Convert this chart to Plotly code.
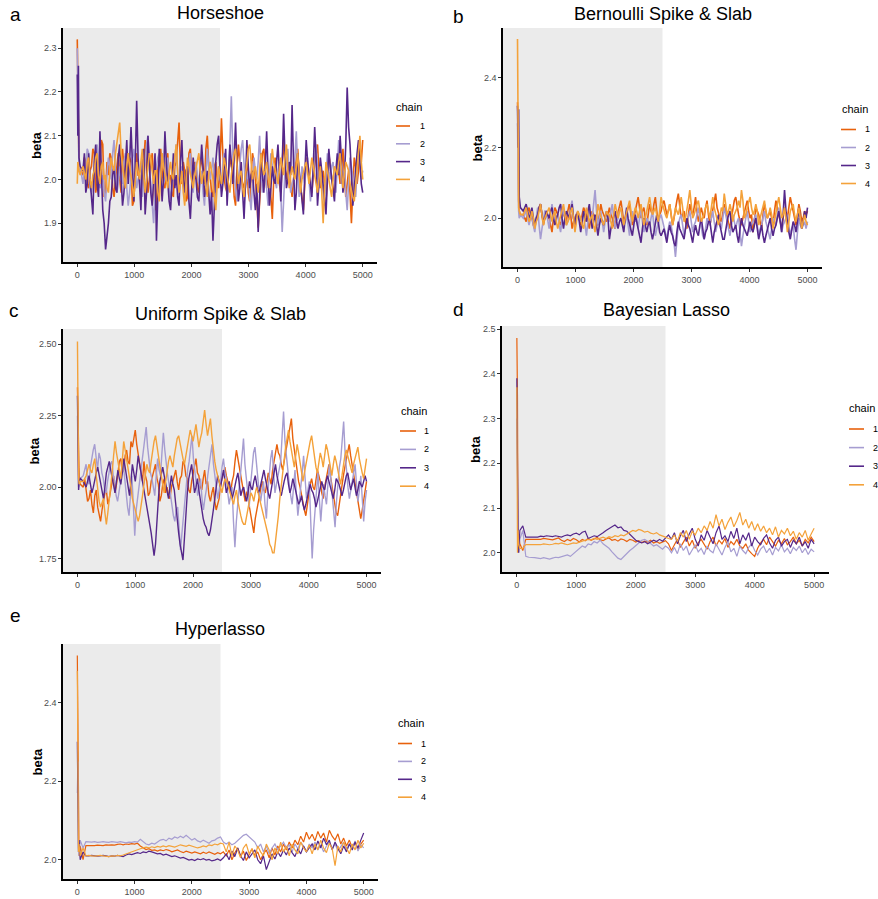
import numpy as np
import plotly.graph_objects as go

# ---------------- data ----------------
head_iterations = [0, 10, 20, 30, 50]
last_iteration = 5000
burnin = 2500
x_ticks = [0, 1000, 2000, 3000, 4000, 5000]
chain_names = ["1", "2", "3", "4"]
chain_colors = ["#e8610c", "#a69dd1", "#55278a", "#f4a23a"]

# Panel a: Horseshoe
horseshoe_1 = [2.32, 2.20, 2.05, 2.03, 2.02,
    2.01, 2.05, 2.04, 1.99, 1.98, 2.02, 2.03, 2.07, 2.06, 1.97, 1.99, 2.03, 2.02, 2.09, 2.08, 1.96, 1.97, 2.04, 2.01, 2.06,
    2.05, 1.98, 1.96, 2.00, 2.03, 2.06, 2.00, 1.97, 2.07, 2.03, 1.98, 2.01, 2.02, 2.05, 2.04, 1.94, 1.95, 2.03, 2.06, 2.01,
    2.01, 1.97, 1.99, 2.04, 2.09, 2.02, 1.97, 2.00, 2.03, 2.06, 2.00, 1.93, 1.94, 2.02, 2.05, 2.07, 2.02, 1.99, 1.98, 2.04,
    2.06, 2.00, 2.01, 1.97, 1.96, 2.03, 2.04, 2.08, 2.13, 2.02, 1.99, 2.04, 2.02, 1.95, 1.96, 2.06, 2.07, 2.01, 2.00, 2.04,
    2.03, 1.98, 1.97, 2.03, 2.05, 2.02, 1.99, 2.07, 2.10, 2.03, 2.01, 1.97, 1.96, 2.03, 2.04, 2.00, 1.98, 2.03, 2.14, 2.06,
    2.00, 1.98, 1.97, 2.02, 2.05, 2.03, 2.02, 1.96, 1.94, 2.03, 2.08, 2.04, 2.01, 1.99, 1.98, 2.02, 2.04, 1.97, 1.95, 2.01,
    2.06, 2.04, 2.00, 1.96, 1.89, 1.95, 2.03, 2.06, 2.07, 2.01, 1.98, 2.00, 2.02, 1.96, 1.91, 2.00, 2.05, 2.02, 2.01, 1.99,
    1.97, 2.04, 2.09, 2.03, 2.00, 2.02, 2.04, 1.99, 1.96, 2.00, 2.02, 2.05, 2.07, 2.01, 1.99, 1.96, 1.93, 2.00, 2.05, 2.03,
    2.01, 1.99, 1.97, 2.01, 2.03, 2.05, 2.08, 2.02, 1.98, 2.00, 2.02, 1.99, 1.95, 2.01, 2.06, 2.03, 2.00, 1.98, 1.97, 2.01,
    2.04, 2.02, 1.99, 2.03, 2.07, 2.01, 1.96, 1.99, 2.02, 1.97, 1.90, 1.98, 2.05, 2.03, 1.99, 2.02, 2.08, 2.04, 2.09]
horseshoe_2 = [2.30, 2.15, 2.04, 2.02, 2.03,
    1.99, 2.02, 2.03, 2.07, 2.06, 1.98, 1.97, 2.00, 2.02, 2.05, 2.08, 2.02, 1.98, 1.99, 2.01, 1.97, 1.95, 2.01, 2.05, 2.03,
    2.00, 2.06, 2.09, 2.01, 1.97, 1.99, 2.03, 2.00, 1.99, 2.04, 2.06, 1.98, 1.94, 1.97, 2.02, 2.05, 2.07, 2.01, 1.98, 2.00,
    2.01, 1.98, 1.96, 2.02, 2.04, 2.08, 2.10, 2.03, 1.99, 1.94, 1.90, 1.97, 2.03, 2.05, 2.06, 2.00, 1.97, 1.99, 2.00, 2.03,
    2.05, 1.99, 1.95, 1.98, 2.02, 2.05, 2.08, 2.01, 1.98, 2.00, 2.03, 1.99, 1.96, 2.00, 2.01, 2.04, 2.06, 2.00, 1.97, 2.02,
    2.04, 2.01, 1.99, 2.00, 2.02, 1.97, 1.94, 2.01, 2.07, 2.03, 2.00, 2.02, 2.05, 2.01, 1.97, 1.99, 2.03, 2.00, 1.99, 2.04,
    2.06, 2.01, 1.96, 2.02, 2.08, 2.19, 2.06, 2.01, 1.98, 1.95, 2.00, 2.04, 2.07, 2.09, 2.02, 1.98, 2.00, 2.02, 1.96, 1.93,
    1.99, 2.05, 2.02, 2.00, 2.04, 2.10, 2.03, 1.97, 1.99, 2.03, 1.98, 1.94, 2.01, 2.06, 2.03, 2.01, 1.99, 1.98, 2.02, 2.04,
    1.97, 1.88, 1.95, 2.02, 2.04, 2.07, 2.01, 1.97, 1.99, 2.00, 2.05, 2.11, 2.02, 1.96, 1.99, 2.03, 2.01, 1.99, 2.03, 2.05,
    2.00, 1.95, 1.99, 2.02, 2.05, 2.08, 2.02, 1.98, 2.00, 2.01, 1.97, 1.94, 2.00, 2.06, 2.02, 2.00, 2.03, 2.04, 2.00, 1.97,
    2.03, 2.09, 2.04, 1.99, 2.01, 2.02, 1.97, 1.93, 1.99, 2.05, 2.03, 2.01, 1.98, 1.96, 2.02, 2.07, 2.04, 2.00, 2.02]
horseshoe_3 = [2.24, 2.10, 2.26, 2.05, 2.03,
    2.02, 2.06, 1.97, 1.99, 2.06, 2.00, 1.95, 1.92, 2.04, 2.08, 1.99, 1.96, 2.11, 2.02, 1.93, 1.90, 1.84, 1.87, 1.90, 1.95,
    1.96, 2.01, 2.03, 1.98, 1.97, 2.05, 2.08, 2.00, 1.94, 1.97, 2.05, 2.09, 1.99, 2.04, 2.12, 2.01, 1.95, 2.03, 2.18, 2.05,
    1.98, 1.93, 2.04, 2.07, 1.92, 1.97, 2.10, 2.03, 1.97, 1.94, 2.02, 2.06, 1.86, 1.95, 2.07, 2.02, 1.95, 2.00, 2.11, 2.04,
    1.99, 1.95, 1.93, 2.01, 2.06, 1.98, 2.01, 1.96, 1.94, 2.04, 2.09, 2.00, 1.97, 2.02, 2.03, 1.95, 1.91, 1.98, 2.05, 2.01,
    2.00, 1.96, 1.95, 2.02, 2.08, 2.03, 1.96, 1.99, 2.02, 1.97, 1.92, 1.97, 1.86, 1.94, 2.04, 2.08, 2.10, 2.02, 1.96, 1.99,
    2.03, 2.07, 1.94, 2.00, 2.08, 2.04, 1.99, 2.05, 2.13, 2.03, 1.95, 1.98, 2.04, 1.97, 1.91, 1.99, 2.09, 2.03, 1.98, 2.01,
    2.02, 1.97, 1.93, 1.99, 1.88, 1.96, 2.06, 2.01, 1.97, 2.03, 2.11, 2.02, 1.94, 1.98, 2.03, 2.00, 1.99, 2.04, 2.08, 2.02,
    1.95, 2.03, 2.15, 2.05, 1.98, 2.00, 2.04, 2.01, 2.17, 2.04, 1.93, 1.97, 2.06, 2.02, 1.99, 1.95, 1.92, 2.01, 2.09, 2.04,
    2.01, 1.98, 1.96, 2.03, 2.12, 2.05, 1.94, 1.99, 2.05, 2.02, 1.98, 1.95, 1.92, 2.00, 2.07, 2.03, 2.00, 1.97, 1.95, 2.02,
    2.06, 2.01, 2.10, 2.04, 1.97, 2.00, 2.08, 2.21, 2.12, 2.08, 2.01, 1.94, 1.98, 2.03, 2.06, 2.09, 2.03, 1.99, 1.97]
horseshoe_4 = [1.99, 2.04, 2.03, 2.02, 2.01,
    2.03, 2.01, 2.00, 2.04, 2.05, 2.00, 1.98, 2.01, 2.02, 2.05, 2.06, 2.01, 1.99, 2.03, 2.04, 2.00, 2.01, 1.98, 1.97, 2.02,
    2.05, 2.03, 2.02, 2.06, 2.08, 2.11, 2.13, 2.06, 2.03, 2.00, 1.98, 2.03, 2.06, 2.03, 2.01, 1.98, 1.96, 2.00, 2.04, 2.02,
    2.00, 2.04, 2.07, 2.01, 1.97, 2.00, 2.03, 2.06, 2.05, 2.01, 1.99, 2.02, 2.02, 1.97, 1.95, 2.01, 2.06, 2.03, 2.01, 1.99,
    1.98, 2.02, 2.04, 2.01, 2.00, 2.05, 2.08, 2.02, 1.97, 1.99, 2.02, 1.97, 1.94, 2.00, 2.05, 2.03, 2.01, 1.99, 1.98, 2.01,
    2.03, 2.05, 2.06, 2.02, 1.99, 2.01, 2.02, 1.98, 1.96, 2.01, 2.04, 2.02, 2.00, 1.96, 1.93, 1.99, 2.03, 2.01, 1.99, 2.02,
    2.05, 2.03, 2.01, 1.99, 1.97, 2.01, 2.04, 2.06, 2.07, 2.03, 1.99, 2.01, 2.02, 1.98, 1.96, 2.01, 2.05, 2.07, 2.08, 2.03,
    2.00, 2.02, 2.03, 2.00, 1.97, 2.02, 2.06, 2.03, 2.01, 2.02, 2.04, 2.01, 1.98, 2.03, 2.07, 2.04, 2.02, 2.00, 1.99, 2.02,
    2.05, 2.03, 2.01, 2.05, 2.08, 2.02, 1.98, 2.01, 2.03, 2.01, 2.00, 2.03, 2.06, 2.01, 1.97, 2.00, 2.02, 2.03, 2.04, 2.01,
    1.99, 2.02, 2.05, 2.03, 2.01, 1.99, 1.97, 2.00, 2.03, 1.97, 1.90, 1.98, 2.04, 2.02, 2.00, 1.98, 1.96, 2.00, 2.03, 2.02,
    2.01, 2.04, 2.06, 2.02, 1.98, 2.01, 2.04, 2.03, 2.02, 1.99, 1.97, 1.96, 1.95, 1.99, 2.03, 2.06, 2.10, 2.04, 2.00]

# Panel b: Bernoulli Spike & Slab
bernoulli_1 = [2.33, 2.28, 2.05, 2.02, 2.01,
    2.01, 2.00, 1.99, 2.02, 2.03, 2.01, 2.00, 1.98, 1.97, 2.00, 2.02, 2.03, 2.04, 2.01, 1.98, 2.00, 2.01, 2.00, 2.00, 1.98,
    1.96, 2.00, 2.03, 2.02, 2.01, 1.99, 1.98, 2.00, 2.02, 2.00, 1.99, 2.02, 2.04, 2.01, 1.97, 1.99, 2.00, 2.01, 2.02, 2.00,
    1.98, 2.01, 2.03, 2.02, 2.01, 1.99, 1.97, 2.00, 2.02, 2.01, 2.00, 1.99, 1.98, 2.01, 2.04, 2.02, 2.01, 2.00, 1.99, 2.01,
    2.03, 2.01, 2.00, 1.98, 1.97, 2.00, 2.02, 2.04, 2.05, 2.02, 1.99, 2.00, 2.01, 2.03, 2.04, 2.01, 1.98, 2.00, 2.02, 2.04,
    2.06, 2.03, 2.00, 2.02, 2.03, 2.00, 1.98, 2.01, 2.04, 2.02, 2.01, 2.04, 2.06, 2.02, 1.99, 2.01, 2.02, 2.04, 2.05, 2.03,
    2.01, 2.02, 2.04, 2.01, 1.98, 2.00, 2.03, 2.05, 2.07, 2.03, 2.00, 2.01, 2.02, 1.99, 1.97, 2.01, 2.04, 2.02, 2.01, 2.03,
    2.06, 2.02, 1.99, 2.01, 2.03, 2.01, 2.00, 2.03, 2.05, 2.01, 1.98, 2.00, 2.02, 2.05, 2.07, 2.03, 2.01, 2.00, 1.99, 2.02,
    2.04, 2.02, 2.00, 1.98, 1.97, 2.00, 2.03, 2.05, 2.06, 2.03, 2.01, 1.99, 1.98, 2.00, 2.02, 2.04, 2.05, 2.02, 2.00, 2.01,
    1.96, 1.99, 2.03, 2.02, 2.01, 1.99, 1.97, 2.01, 2.04, 2.02, 2.00, 2.01, 2.02, 2.00, 1.98, 2.02, 2.05, 2.03, 2.01, 1.99,
    1.97, 2.00, 2.03, 2.01, 2.00, 2.03, 2.06, 2.04, 2.02, 2.00, 1.98, 2.01, 2.04, 2.02, 1.99, 2.00, 2.02, 2.01, 2.02]
bernoulli_2 = [2.27, 2.05, 2.02, 2.00, 2.01,
    2.00, 2.01, 2.02, 2.00, 1.98, 2.00, 2.01, 1.98, 1.96, 2.00, 2.03, 1.98, 1.94, 1.97, 2.00, 2.02, 2.02, 1.99, 1.97, 2.01,
    2.04, 2.01, 1.99, 2.00, 2.01, 1.98, 1.96, 2.00, 2.03, 2.00, 1.98, 1.99, 2.00, 2.03, 2.05, 2.00, 1.97, 2.00, 2.02, 2.00,
    1.99, 2.00, 2.01, 1.98, 1.95, 1.99, 2.03, 2.01, 2.00, 2.04, 2.08, 2.02, 1.98, 2.00, 2.02, 1.99, 1.96, 1.99, 2.01, 2.00,
    1.99, 2.02, 2.04, 2.00, 1.97, 1.99, 2.00, 2.02, 2.03, 2.00, 1.98, 1.99, 2.01, 1.98, 1.95, 1.99, 2.02, 2.00, 1.99, 2.00,
    1.97, 2.00, 2.03, 1.99, 1.96, 1.98, 2.00, 1.99, 1.98, 2.00, 2.02, 1.98, 1.95, 1.97, 1.99, 2.00, 2.01, 1.99, 1.97, 1.95,
    1.94, 1.97, 1.99, 1.98, 1.96, 1.93, 1.89, 1.94, 1.98, 2.00, 2.01, 1.98, 1.95, 1.97, 1.99, 2.01, 2.02, 1.99, 1.96, 1.98,
    1.99, 2.01, 2.03, 2.00, 1.97, 1.95, 1.94, 1.97, 2.00, 1.99, 1.98, 2.00, 2.02, 1.99, 1.96, 1.98, 2.00, 1.98, 1.97, 2.00,
    2.03, 2.01, 1.99, 1.97, 1.95, 1.98, 2.01, 1.99, 1.97, 1.99, 2.00, 1.96, 1.92, 1.95, 1.98, 2.00, 2.02, 1.99, 1.96, 1.98,
    1.99, 2.00, 2.01, 1.98, 1.95, 1.97, 1.98, 2.00, 2.02, 1.99, 1.97, 1.96, 1.94, 1.97, 2.00, 1.99, 1.98, 2.01, 2.03, 2.00,
    1.96, 1.98, 1.99, 2.00, 2.01, 1.98, 1.95, 1.97, 1.98, 1.94, 1.91, 1.96, 2.00, 1.98, 1.97, 1.98, 1.99, 1.97, 1.99]
bernoulli_3 = [2.32, 2.20, 2.31, 2.06, 2.03,
    2.02, 2.03, 2.04, 2.02, 2.00, 2.01, 2.03, 2.00, 1.98, 2.00, 2.01, 2.03, 2.04, 2.01, 1.99, 2.00, 2.02, 2.01, 2.00, 2.02,
    2.03, 2.00, 1.98, 2.00, 2.01, 2.03, 2.04, 2.00, 1.97, 2.00, 2.02, 2.01, 2.00, 2.02, 2.04, 2.00, 1.98, 2.01, 2.01, 1.99,
    1.96, 1.99, 2.02, 2.00, 1.99, 2.02, 2.04, 2.00, 1.97, 1.99, 2.01, 1.98, 1.95, 1.98, 2.00, 1.99, 1.98, 2.00, 2.02, 2.00,
    1.94, 1.97, 1.99, 2.01, 2.02, 1.99, 1.97, 1.99, 2.00, 1.98, 1.96, 2.00, 2.03, 2.00, 1.98, 1.96, 1.95, 1.98, 2.01, 1.99,
    1.97, 1.95, 1.93, 1.97, 2.00, 1.98, 1.96, 1.98, 1.99, 1.96, 1.94, 1.96, 1.98, 2.01, 1.99, 1.96, 1.95, 1.96, 1.97, 1.95,
    1.93, 1.96, 1.98, 1.96, 1.95, 1.93, 1.92, 1.96, 1.99, 1.97, 1.96, 1.95, 1.94, 1.97, 2.00, 1.98, 1.97, 1.95, 1.93, 1.96,
    1.98, 1.96, 1.95, 1.98, 2.00, 1.97, 1.94, 1.96, 1.97, 1.99, 1.99, 1.96, 1.93, 1.96, 1.98, 2.00, 2.01, 1.98, 1.96, 1.94,
    1.94, 1.97, 1.99, 2.01, 2.02, 1.98, 1.96, 1.97, 1.98, 1.95, 1.93, 1.97, 2.00, 1.98, 1.97, 1.96, 1.95, 1.97, 1.99, 1.97,
    1.96, 1.98, 2.00, 1.97, 1.94, 1.96, 1.98, 1.95, 1.93, 1.95, 1.97, 1.99, 2.00, 1.97, 1.95, 1.97, 1.98, 2.00, 2.02, 1.99,
    1.96, 2.01, 2.08, 2.02, 1.98, 1.96, 1.94, 1.97, 1.99, 1.98, 1.96, 1.99, 2.03, 2.00, 1.97, 1.99, 2.02, 2.00, 2.03]
bernoulli_4 = [2.51, 2.08, 2.03, 2.02, 2.01,
    2.01, 2.02, 2.03, 2.01, 1.99, 2.00, 2.02, 2.00, 1.97, 1.99, 2.00, 2.02, 2.04, 2.01, 1.98, 2.00, 2.01, 2.02, 2.03, 2.01,
    1.99, 2.01, 2.02, 1.99, 1.97, 1.99, 2.01, 2.03, 2.04, 2.01, 1.98, 1.99, 2.00, 2.02, 2.03, 2.00, 1.96, 1.99, 2.02, 2.01,
    2.00, 1.98, 1.97, 2.00, 2.03, 2.01, 1.99, 2.00, 2.01, 1.98, 1.96, 2.00, 2.04, 2.02, 2.00, 1.99, 1.98, 2.00, 2.02, 2.01,
    2.01, 1.99, 1.97, 2.01, 2.04, 2.02, 2.00, 2.02, 2.03, 2.00, 1.98, 2.00, 2.02, 2.04, 2.05, 2.02, 1.99, 2.01, 2.03, 2.02,
    2.00, 2.02, 2.04, 2.01, 1.98, 2.00, 2.02, 2.04, 2.06, 2.03, 2.01, 2.02, 2.03, 2.01, 1.99, 2.02, 2.06, 2.04, 2.02, 2.01,
    2.00, 2.02, 2.04, 2.01, 1.98, 2.00, 2.03, 2.02, 2.01, 2.03, 2.06, 2.03, 1.99, 2.00, 2.02, 2.05, 2.08, 2.03, 2.00, 2.01,
    2.03, 2.04, 2.05, 2.02, 1.99, 2.00, 2.02, 2.03, 2.04, 2.02, 2.00, 2.03, 2.06, 2.03, 2.01, 2.00, 1.98, 2.00, 2.03, 2.02,
    2.07, 2.04, 2.01, 2.02, 2.04, 2.02, 1.99, 2.01, 2.02, 2.03, 2.05, 2.03, 2.08, 2.05, 2.00, 2.01, 2.03, 2.05, 2.06, 2.03,
    2.01, 2.02, 2.04, 2.02, 1.98, 2.00, 2.02, 2.03, 2.05, 2.02, 2.00, 2.01, 2.03, 2.01, 1.97, 1.99, 2.02, 2.04, 2.06, 2.03,
    2.00, 2.01, 2.03, 2.00, 1.96, 1.99, 2.02, 2.03, 2.04, 2.01, 1.99, 2.01, 2.03, 2.00, 1.97, 1.99, 2.01, 1.99, 1.98]

# Panel c: Uniform Spike & Slab
uniform_1 = [2.35, 2.20, 2.03, 2.02, 2.01,
    2.00, 2.03, 1.98, 1.95, 1.96, 1.99, 1.94, 1.91, 1.97, 1.99, 1.93, 1.90, 1.88, 1.92, 1.95, 1.98, 1.99, 1.94, 1.96, 2.00,
    2.02, 2.04, 1.98, 2.01, 2.05, 2.09, 2.10, 2.05, 2.06, 2.11, 2.13, 2.09, 2.08, 2.16, 2.14, 2.18, 2.20, 2.15, 2.11, 2.07,
    2.05, 2.02, 2.09, 2.04, 2.02, 1.97, 1.98, 2.02, 2.04, 2.07, 2.08, 2.03, 2.01, 1.95, 1.97, 2.01, 2.03, 1.98, 2.00, 1.97,
    1.96, 2.00, 2.02, 2.05, 2.06, 2.02, 1.99, 2.03, 2.04, 2.09, 2.08, 2.04, 2.03, 1.99, 1.98, 2.02, 2.05, 2.08, 2.10, 2.05,
    2.04, 2.00, 1.99, 2.03, 2.06, 2.01, 2.02, 1.97, 1.95, 1.98, 2.00, 1.95, 1.92, 1.94, 1.96, 2.01, 2.03, 2.05, 2.07, 2.04,
    2.02, 1.99, 1.98, 2.02, 2.04, 2.09, 2.13, 2.10, 2.07, 2.03, 2.01, 1.97, 1.95, 1.98, 1.99, 1.93, 1.90, 1.86, 1.84, 1.89,
    1.92, 1.95, 1.97, 2.00, 2.02, 1.99, 1.98, 2.02, 2.05, 2.03, 2.01, 2.06, 2.09, 2.12, 2.15, 2.12, 2.11, 2.08, 2.06, 2.09,
    2.12, 2.16, 2.18, 2.21, 2.24, 2.17, 2.13, 2.09, 2.06, 2.02, 2.00, 1.97, 1.95, 1.92, 1.90, 1.94, 1.98, 2.01, 2.03, 2.00,
    1.99, 2.03, 2.06, 2.04, 2.02, 1.98, 1.96, 2.00, 2.03, 2.06, 2.08, 2.04, 2.01, 1.97, 1.94, 1.91, 1.90, 1.94, 1.97, 2.01,
    2.04, 2.07, 2.10, 2.13, 2.15, 2.11, 2.08, 2.05, 2.02, 1.98, 1.96, 1.92, 1.89, 1.92, 1.95, 1.99, 2.02]
uniform_2 = [2.25, 2.05, 2.00, 2.02, 2.03,
    2.04, 2.06, 2.08, 2.03, 2.01, 2.07, 2.11, 2.13, 2.15, 2.09, 2.06, 2.12, 2.10, 2.05, 2.03, 1.99, 1.98, 2.02, 2.05, 2.08,
    2.09, 2.04, 2.02, 1.97, 1.95, 1.99, 2.01, 2.05, 2.08, 2.02, 1.97, 1.93, 1.90, 1.96, 2.04, 1.94, 1.83, 1.92, 1.96, 2.02,
    2.06, 2.10, 2.12, 2.17, 2.21, 2.14, 2.09, 2.05, 2.03, 1.99, 1.97, 2.04, 2.10, 2.06, 2.04, 2.12, 2.19, 2.13, 2.08, 2.04,
    2.01, 1.97, 1.95, 1.90, 1.88, 1.92, 1.93, 1.85, 1.78, 1.84, 1.90, 1.97, 2.02, 2.06, 2.09, 2.14, 2.18, 2.10, 2.05, 2.00,
    1.97, 2.00, 2.03, 1.96, 1.92, 1.96, 1.99, 2.04, 2.08, 2.12, 2.15, 2.08, 2.04, 1.99, 1.96, 1.99, 2.02, 2.07, 2.10, 2.05,
    2.03, 1.98, 1.94, 1.97, 2.00, 1.88, 1.79, 1.88, 1.95, 2.00, 2.05, 2.11, 2.17, 2.08, 2.02, 1.97, 1.93, 2.01, 2.08, 2.12,
    2.14, 2.08, 2.03, 1.98, 1.95, 1.99, 2.02, 1.94, 1.89, 1.98, 2.06, 2.10, 2.13, 2.04, 1.98, 2.01, 2.04, 2.07, 2.09, 2.18,
    2.265, 2.16, 2.10, 2.05, 2.01, 1.97, 1.94, 2.00, 2.06, 1.97, 1.90, 1.95, 1.99, 2.05, 2.11, 2.02, 1.96, 1.99, 2.02, 1.88,
    1.75, 1.85, 1.93, 1.99, 2.05, 1.96, 1.88, 1.95, 2.01, 1.97, 1.94, 2.01, 2.08, 2.03, 1.98, 1.92, 1.86, 1.95, 2.03, 2.07,
    2.10, 2.16, 2.23, 2.12, 2.05, 2.00, 1.96, 1.99, 2.02, 2.05, 2.08, 2.01, 1.95, 1.99, 2.04, 1.96, 1.88, 1.95, 1.99]
uniform_3 = [2.32, 2.10, 1.99, 2.02, 2.03,
    2.02, 2.01, 2.00, 2.02, 2.04, 2.01, 1.98, 2.00, 2.03, 2.05, 2.07, 2.04, 2.01, 1.98, 1.96, 2.00, 2.05, 2.07, 2.09, 2.06,
    2.03, 2.00, 1.98, 2.02, 2.06, 2.03, 2.01, 2.05, 2.10, 2.07, 2.04, 2.00, 1.97, 2.02, 2.08, 2.05, 2.02, 2.06, 2.11, 2.08,
    2.05, 2.02, 1.99, 1.96, 1.93, 1.90, 1.88, 1.84, 1.80, 1.76, 1.80, 1.90, 1.96, 2.02, 2.05, 2.07, 2.04, 2.01, 1.98, 1.96,
    2.00, 2.04, 2.01, 1.99, 1.94, 1.88, 1.84, 1.80, 1.77, 1.745, 1.82, 1.92, 1.98, 2.03, 2.06, 2.08, 2.03, 1.98, 2.00, 2.03,
    1.99, 1.95, 1.92, 1.89, 1.87, 1.86, 1.84, 1.83, 1.85, 1.88, 1.92, 1.96, 2.00, 2.04, 2.02, 2.00, 2.03, 2.06, 2.02, 1.98,
    2.00, 2.02, 1.99, 1.96, 1.98, 2.01, 2.03, 2.05, 2.01, 1.97, 1.99, 2.00, 1.97, 1.95, 1.98, 2.02, 2.00, 1.99, 2.02, 2.04,
    2.01, 1.98, 1.99, 2.01, 2.04, 2.06, 2.03, 2.00, 1.98, 1.96, 1.99, 2.03, 2.05, 2.08, 2.04, 2.01, 1.99, 1.97, 2.00, 2.02,
    2.04, 2.05, 2.01, 1.98, 2.00, 2.03, 2.01, 1.99, 1.96, 1.94, 1.95, 1.97, 1.94, 1.92, 1.94, 1.96, 1.99, 2.01, 1.99, 1.98,
    1.96, 1.93, 1.95, 1.97, 2.00, 2.02, 2.00, 1.99, 2.02, 2.04, 2.02, 2.00, 1.98, 1.96, 1.99, 2.03, 2.02, 2.01, 1.99, 1.97,
    1.99, 2.02, 2.04, 2.05, 2.02, 1.99, 2.01, 2.03, 2.00, 1.97, 1.99, 2.02, 2.01, 2.00, 2.02, 2.04, 2.02]
uniform_4 = [2.51, 2.15, 2.03, 2.01, 2.02,
    2.02, 2.03, 2.04, 2.06, 2.08, 2.06, 2.05, 2.08, 2.10, 2.04, 1.98, 1.95, 1.93, 1.95, 1.96, 1.91, 1.87, 1.91, 1.95, 2.00,
    2.05, 2.11, 2.16, 2.12, 2.09, 2.06, 2.03, 2.09, 2.16, 2.13, 2.10, 2.07, 2.04, 2.00, 1.96, 1.94, 1.92, 1.90, 1.88, 1.90,
    1.93, 1.97, 2.01, 2.05, 2.08, 2.06, 2.05, 2.09, 2.13, 2.16, 2.18, 2.14, 2.10, 2.07, 2.04, 2.01, 1.98, 2.02, 2.06, 2.09,
    2.11, 2.09, 2.07, 2.11, 2.15, 2.17, 2.18, 2.15, 2.12, 2.10, 2.08, 2.11, 2.14, 2.17, 2.20, 2.18, 2.16, 2.19, 2.22, 2.18,
    2.14, 2.17, 2.19, 2.23, 2.27, 2.22, 2.18, 2.21, 2.24, 2.18, 2.12, 2.09, 2.06, 2.04, 2.02, 2.00, 1.98, 2.01, 2.03, 2.02,
    2.01, 1.99, 1.97, 1.95, 1.94, 1.97, 1.99, 1.95, 1.92, 1.90, 1.88, 1.87, 1.87, 1.90, 1.93, 1.96, 1.98, 1.97, 1.95, 1.98,
    2.00, 1.98, 1.96, 1.94, 1.92, 1.90, 1.88, 1.85, 1.83, 1.80, 1.79, 1.77, 1.77, 1.81, 1.85, 1.90, 1.96, 2.01, 2.06, 2.10,
    2.14, 2.17, 2.20, 2.16, 2.12, 2.10, 2.07, 2.11, 2.15, 2.12, 2.09, 2.05, 2.02, 2.05, 2.08, 2.11, 2.13, 2.16, 2.18, 2.14,
    2.10, 2.07, 2.05, 2.09, 2.12, 2.10, 2.07, 2.11, 2.15, 2.13, 2.10, 2.07, 2.04, 2.08, 2.11, 2.09, 2.06, 2.03, 2.01, 2.04,
    2.08, 2.11, 2.13, 2.11, 2.09, 2.07, 2.05, 2.08, 2.10, 2.12, 2.14, 2.10, 2.07, 2.05, 2.03, 2.06, 2.10]

# Panel d: Bayesian Lasso
lasso_1 = [2.48, 2.35, 2.01, 2.04, 2.02,
    2.005, 2.030, 2.030, 2.030, 2.030, 2.031, 2.030, 2.032, 2.031, 2.030, 2.029, 2.031, 2.033, 2.028, 2.025, 2.030, 2.027, 2.032, 2.029, 2.024,
    2.030, 2.027, 2.032, 2.028, 2.031, 2.034, 2.029, 2.027, 2.031, 2.033, 2.028, 2.030, 2.026, 2.031, 2.029, 2.025, 2.030, 2.028, 2.024, 2.027,
    2.023, 2.026, 2.024, 2.028, 2.022, 2.025, 2.021, 2.024, 2.027, 2.020, 2.005, 2.018, 2.030, 2.012, 2.025, 2.035, 2.015, 2.028, 2.010, 2.022,
    2.030, 2.018, 2.008, 2.025, 2.035, 2.015, 2.028, 2.020, 2.032, 2.012, 2.025, 2.018, 2.030, 2.015, 2.010, 2.020, 2.005, 1.998, 1.992, 2.010,
    2.022, 2.030, 2.018, 2.035, 2.025, 2.015, 2.028, 2.020, 2.032, 2.018, 2.025, 2.035, 2.020, 2.028, 2.015, 2.030, 2.022, 2.035, 2.025]
lasso_2 = [2.30, 2.10, 2.02, 2.00, 2.03,
    2.050, 1.992, 1.990, 1.990, 1.989, 1.988, 1.987, 1.989, 1.987, 1.986, 1.988, 1.990, 1.989, 1.991, 1.993, 1.995, 1.992, 1.998, 2.003, 2.010,
    2.015, 2.012, 2.020, 2.018, 2.025, 2.022, 2.028, 2.020, 2.015, 2.010, 2.002, 1.995, 1.988, 1.985, 1.992, 1.998, 2.005, 2.010, 2.015, 2.022,
    2.028, 2.030, 2.026, 2.020, 2.015, 2.018, 2.012, 2.008, 2.015, 2.010, 2.000, 2.012, 1.998, 2.020, 2.005, 2.015, 1.995, 2.008, 2.018, 2.002,
    2.010, 1.996, 2.015, 2.005, 2.000, 2.020, 2.008, 1.995, 2.012, 2.025, 2.002, 2.010, 1.992, 2.015, 2.005, 1.998, 2.012, 2.020, 2.005, 1.995,
    2.008, 2.015, 2.000, 2.010, 1.995, 2.012, 2.004, 2.018, 2.002, 2.010, 1.998, 2.012, 2.005, 2.015, 2.000, 2.010, 1.996, 2.008, 2.002]
lasso_3 = [2.39, 2.05, 2.03, 2.00, 2.05,
    2.060, 2.035, 2.035, 2.035, 2.036, 2.035, 2.037, 2.036, 2.038, 2.037, 2.036, 2.038, 2.037, 2.035, 2.038, 2.040, 2.038, 2.042, 2.044, 2.040,
    2.046, 2.048, 2.032, 2.035, 2.038, 2.036, 2.040, 2.045, 2.050, 2.055, 2.058, 2.062, 2.056, 2.058, 2.050, 2.048, 2.042, 2.035, 2.028, 2.025,
    2.022, 2.025, 2.020, 2.024, 2.028, 2.025, 2.030, 2.026, 2.032, 2.040, 2.030, 2.045, 2.020, 2.038, 2.050, 2.025, 2.042, 2.055, 2.030, 2.015,
    2.040, 2.028, 2.050, 2.035, 2.020, 2.045, 2.060, 2.030, 2.038, 2.025, 2.048, 2.032, 2.055, 2.020, 2.040, 2.028, 2.045, 2.015, 2.035, 2.025,
    2.018, 2.032, 2.040, 2.022, 2.010, 2.028, 2.035, 2.015, 2.025, 2.030, 2.012, 2.028, 2.020, 2.035, 2.015, 2.025, 2.010, 2.030, 2.020]
lasso_4 = [2.37, 2.00, 2.05, 2.02, 2.01,
    2.010, 2.018, 2.018, 2.018, 2.019, 2.018, 2.018, 2.020, 2.019, 2.018, 2.019, 2.021, 2.020, 2.022, 2.020, 2.018, 2.020, 2.022, 2.021, 2.024,
    2.026, 2.028, 2.030, 2.029, 2.032, 2.030, 2.033, 2.035, 2.032, 2.036, 2.034, 2.038, 2.036, 2.040, 2.038, 2.042, 2.046, 2.050, 2.048, 2.052,
    2.050, 2.046, 2.048, 2.044, 2.042, 2.045, 2.040, 2.038, 2.035, 2.032, 2.030, 2.040, 2.025, 2.045, 2.035, 2.050, 2.030, 2.048, 2.040, 2.055,
    2.045, 2.060, 2.050, 2.070, 2.055, 2.085, 2.060, 2.075, 2.052, 2.068, 2.080, 2.058, 2.072, 2.090, 2.062, 2.075, 2.055, 2.070, 2.050, 2.065,
    2.048, 2.060, 2.045, 2.055, 2.040, 2.058, 2.035, 2.050, 2.042, 2.055, 2.038, 2.048, 2.030, 2.045, 2.035, 2.050, 2.028, 2.042, 2.055]

# Panel e: Hyperlasso
hyper_1 = [2.52, 2.30, 2.04, 2.01, 2.035,
    2.000, 2.036, 2.036, 2.035, 2.036, 2.037, 2.036, 2.036, 2.038, 2.037, 2.038, 2.037, 2.039, 2.040, 2.038, 2.040, 2.039, 2.041, 2.040, 2.042,
    2.035, 2.030, 2.026, 2.028, 2.024, 2.025, 2.022, 2.025, 2.023, 2.026, 2.024, 2.020, 2.022, 2.025, 2.021, 2.018, 2.022, 2.020, 2.017, 2.020,
    2.018, 2.015, 2.019, 2.016, 2.020, 2.017, 2.014, 2.018, 2.015, 2.020, 2.010, 2.025, 2.000, 2.018, 2.030, 2.008, 2.022, 1.998, 2.015, 2.028,
    2.010, 2.020, 2.000, 2.015, 2.025, 2.005, 2.030, 2.012, 2.035, 2.020, 2.040, 2.025, 2.045, 2.030, 2.050, 2.038, 2.060, 2.045, 2.070, 2.052,
    2.065, 2.048, 2.072, 2.055, 2.068, 2.045, 2.075, 2.060, 2.050, 2.066, 2.040, 2.055, 2.035, 2.050, 2.030, 2.045, 2.025, 2.040, 2.050]
hyper_2 = [2.17, 2.25, 2.03, 2.01, 2.05,
    2.030, 2.046, 2.045, 2.045, 2.046, 2.044, 2.045, 2.046, 2.045, 2.044, 2.046, 2.045, 2.044, 2.046, 2.045, 2.043, 2.045, 2.044, 2.046, 2.045,
    2.052, 2.046, 2.040, 2.038, 2.042, 2.040, 2.045, 2.050, 2.052, 2.048, 2.055, 2.052, 2.058, 2.055, 2.060, 2.056, 2.062, 2.055, 2.050, 2.054,
    2.048, 2.045, 2.050, 2.046, 2.042, 2.048, 2.050, 2.055, 2.058, 2.045, 2.040, 2.045, 2.038, 2.042, 2.048, 2.055, 2.062, 2.065, 2.058, 2.050,
    2.045, 2.030, 2.040, 2.020, 2.035, 2.015, 2.030, 2.040, 2.025, 2.035, 2.045, 2.030, 2.038, 2.020, 2.040, 2.028, 2.045, 2.035, 2.020, 2.040,
    2.030, 2.045, 2.025, 2.038, 2.020, 2.035, 2.045, 2.028, 2.040, 2.022, 2.035, 2.045, 2.025, 2.040, 2.030, 2.048, 2.022, 2.038, 2.030]
hyper_3 = [2.30, 2.20, 2.02, 2.05, 2.00,
    2.020, 2.010, 2.010, 2.011, 2.010, 2.009, 2.010, 2.011, 2.010, 2.008, 2.010, 2.009, 2.011, 2.010, 2.008, 2.012, 2.015, 2.013, 2.016, 2.018,
    2.016, 2.020, 2.018, 2.022, 2.020, 2.018, 2.015, 2.016, 2.012, 2.014, 2.010, 2.008, 2.010, 2.006, 2.004, 2.006, 2.002, 1.999, 2.001, 1.998,
    2.002, 2.000, 2.003, 1.999, 2.001, 1.997, 1.999, 2.002, 1.998, 2.005, 2.015, 2.000, 2.022, 2.008, 2.030, 2.010, 1.998, 2.020, 2.005, 2.015,
    2.025, 2.000, 1.990, 2.010, 1.975, 1.995, 2.015, 2.002, 2.020, 2.008, 2.025, 2.012, 2.030, 2.018, 2.008, 2.028, 2.015, 2.035, 2.020, 2.030,
    2.040, 2.025, 2.048, 2.030, 2.055, 2.038, 2.050, 2.025, 2.045, 2.030, 2.015, 2.035, 2.020, 2.040, 2.025, 2.045, 2.030, 2.050, 2.068]
hyper_4 = [2.48, 2.33, 2.02, 2.04, 2.01,
    2.030, 2.010, 2.011, 2.010, 2.009, 2.010, 2.011, 2.010, 2.009, 2.008, 2.010, 2.009, 2.011, 2.010, 2.012, 2.015, 2.018, 2.020, 2.024, 2.026,
    2.028, 2.030, 2.032, 2.030, 2.033, 2.031, 2.034, 2.032, 2.035, 2.033, 2.036, 2.034, 2.032, 2.035, 2.038, 2.036, 2.034, 2.037, 2.035, 2.033,
    2.030, 2.032, 2.035, 2.033, 2.038, 2.036, 2.040, 2.038, 2.042, 2.040, 2.020, 2.045, 2.010, 2.035, 2.025, 2.005, 2.030, 2.040, 2.015, 2.028,
    2.005, 2.035, 2.020, 2.010, 2.040, 2.025, 2.000, 2.030, 2.015, 2.045, 2.020, 2.035, 2.010, 2.040, 2.025, 2.015, 2.045, 2.030, 2.020, 2.038,
    2.015, 2.040, 2.025, 2.050, 2.030, 2.018, 2.042, 2.028, 1.985, 2.035, 2.020, 2.045, 2.030, 2.015, 2.040, 2.025, 2.050, 2.030, 2.042]

panel_titles = ["Horseshoe", "Bernoulli Spike & Slab", "Uniform Spike & Slab", "Bayesian Lasso", "Hyperlasso"]
panel_letters = ["a", "b", "c", "d", "e"]
panel_series = [
    [horseshoe_1, horseshoe_2, horseshoe_3, horseshoe_4],
    [bernoulli_1, bernoulli_2, bernoulli_3, bernoulli_4],
    [uniform_1, uniform_2, uniform_3, uniform_4],
    [lasso_1, lasso_2, lasso_3, lasso_4],
    [hyper_1, hyper_2, hyper_3, hyper_4],
]
panel_yticks = [
    [1.9, 2.0, 2.1, 2.2, 2.3],
    [2.0, 2.2, 2.4],
    [1.75, 2.00, 2.25, 2.50],
    [2.0, 2.1, 2.2, 2.3, 2.4, 2.5],
    [2.0, 2.2, 2.4],
]

# ---------------- layout (pixel geometry) ----------------
W, H = 878, 899
FONT = "Liberation Sans, Arial, Helvetica, sans-serif"
# plot-area boxes: left, right, top, bottom (px)
boxes = [(63, 377, 28, 262), (503, 822, 28, 267), (63, 381, 329, 572),
         (502, 829, 326, 572), (63, 378, 644, 879)]
y_ranges = [(1.8115, 2.346), (1.861, 2.541), (1.703, 2.5535), (1.957, 2.507), (1.951, 2.549)]
y_formats = [".1f", ".1f", ".2f", ".1f", ".1f"]
line_widths = [1.6, 1.6, 1.4, 1.2, 1.2]
title_pos = [(220, 13), (663, 14), (220, 314), (666, 310), (220, 629)]
letter_pos = [(15, 14), (458, 16), (14, 311), (458, 309), (15, 615)]
ylab_x = [37, 477, 34, 475, 37]
# legend geometry: title-left x, title y, key x0, key x1, first item y, item step, label x
legend_geo = [(394, 107, 396, 410, 126, 17.8, 418),
              (840, 109, 841, 856, 129.5, 18.0, 863),
              (399, 411, 400, 416, 431, 18.4, 422),
              (847, 408, 849, 864, 429, 18.6, 871),
              (396, 723, 398, 412, 743.5, 17.9, 419)]

x_pad = 0.05 * last_iteration
x_range = [-x_pad, last_iteration + x_pad]


def px(xp):
    return xp / W


def py(yp):
    return 1 - yp / H


fig = go.Figure()
layout = dict(width=W, height=H, autosize=False, margin=dict(l=0, r=0, t=0, b=0, pad=0),
              paper_bgcolor="white", plot_bgcolor="rgba(0,0,0,0)", showlegend=False,
              font=dict(family=FONT, color="#000000"),
              shapes=[], annotations=[])

for i in range(5):
    n = i + 1
    xa = "xaxis" if n == 1 else f"xaxis{n}"
    ya = "yaxis" if n == 1 else f"yaxis{n}"
    xr = "x" if n == 1 else f"x{n}"
    yr = "y" if n == 1 else f"y{n}"
    l, r, t, b = boxes[i]

    for c in range(4):
        vals = panel_series[i][c]
        tail_n = len(vals) - len(head_iterations)
        xs = list(head_iterations) + list(np.linspace(100, last_iteration, tail_n))
        fig.add_trace(go.Scatter(
            x=xs, y=vals, mode="lines", name=chain_names[c],
            line=dict(color=chain_colors[c], width=line_widths[i]),
            xaxis=xr, yaxis=yr, showlegend=False, hoverinfo="skip"))

    axis_common = dict(showline=True, linecolor="#000000", linewidth=1.5,
                       showgrid=False, zeroline=False, ticks="outside", ticklen=3,
                       tickwidth=1, tickcolor="#333333", automargin=False,
                       tickfont=dict(family=FONT, size=9, color="#4d4d4d"))
    layout[xa] = dict(domain=[px(l), px(r)], range=x_range, anchor=yr,
                      tickvals=x_ticks, ticktext=[str(v) for v in x_ticks], **axis_common)
    layout[ya] = dict(domain=[py(b), py(t)], range=list(y_ranges[i]), anchor=xr,
                      tickvals=panel_yticks[i],
                      ticktext=[format(v, y_formats[i]) for v in panel_yticks[i]],
                      **axis_common)

    layout["shapes"].append(dict(type="rect", xref=xr, yref=f"{yr} domain",
                                 x0=x_range[0], x1=burnin, y0=0, y1=1,
                                 fillcolor="#ebebeb", line=dict(width=0), layer="below"))

    tx, ty = title_pos[i]
    layout["annotations"].append(dict(text=panel_titles[i], x=px(tx), y=py(ty), xref="paper", yref="paper",
                                      xanchor="center", yanchor="middle", showarrow=False,
                                      font=dict(family=FONT, size=18, color="#000000")))
    lx, ly = letter_pos[i]
    layout["annotations"].append(dict(text=panel_letters[i], x=px(lx), y=py(ly), xref="paper", yref="paper",
                                      xanchor="center", yanchor="middle", showarrow=False,
                                      font=dict(family=FONT, size=19, color="#000000")))
    layout["annotations"].append(dict(text="<b>beta</b>", x=px(ylab_x[i]), y=py((t + b) / 2),
                                      xref="paper", yref="paper", xanchor="center", yanchor="middle",
                                      textangle=-90, showarrow=False,
                                      font=dict(family=FONT, size=13, color="#000000")))

    # legend ("chain") drawn as a small key per panel
    gtx, gty, k0, k1, y0, step, lbx = legend_geo[i]
    layout["annotations"].append(dict(text="chain", x=px(gtx), y=py(gty), xref="paper", yref="paper",
                                      xanchor="left", yanchor="middle", showarrow=False,
                                      font=dict(family=FONT, size=11, color="#000000")))
    for c in range(4):
        yy = y0 + c * step
        layout["shapes"].append(dict(type="line", xref="paper", yref="paper",
                                     x0=px(k0), x1=px(k1), y0=py(yy), y1=py(yy),
                                     line=dict(color=chain_colors[c], width=1.6)))
        layout["annotations"].append(dict(text=chain_names[c], x=px(lbx), y=py(yy), xref="paper", yref="paper",
                                          xanchor="left", yanchor="middle", showarrow=False,
                                          font=dict(family=FONT, size=9, color="#000000")))

fig.update_layout(**layout)

post = ("document.documentElement.style.overflow='hidden';"
        "document.body.style.margin='0';document.body.style.overflow='hidden';")
fig.write_html("out.html", config={"responsive": False}, post_script=post)
